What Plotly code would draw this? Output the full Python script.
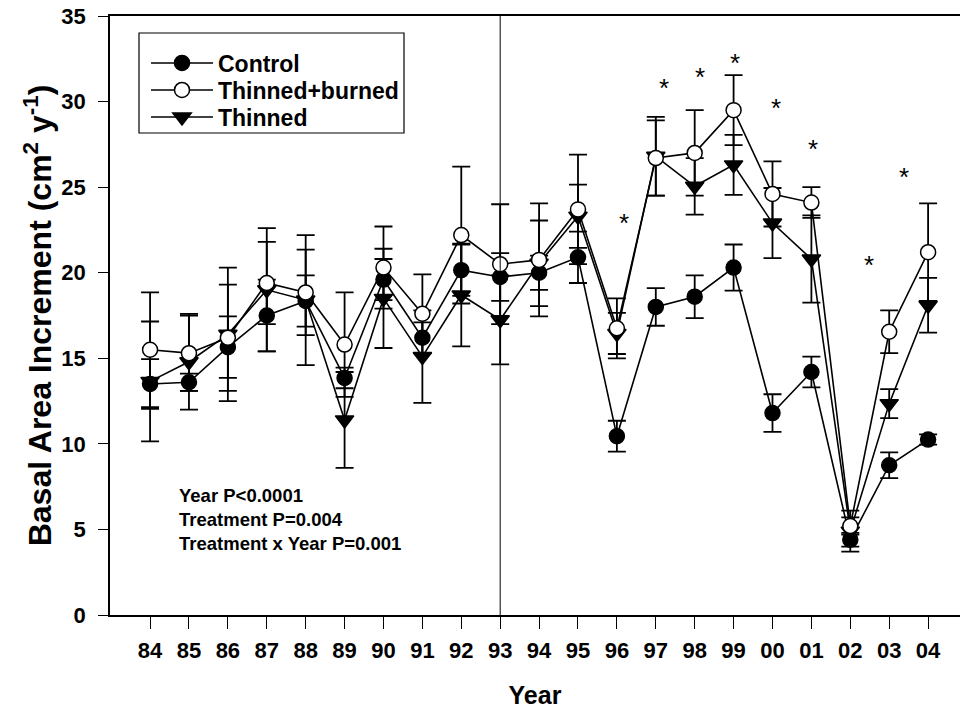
import plotly.graph_objects as go

years = ["84", "85", "86", "87", "88", "89", "90", "91", "92", "93", "94",
         "95", "96", "97", "98", "99", "00", "01", "02", "03", "04"]

control = [13.5, 13.6, 15.65, 17.5, 18.35, 13.85, 19.6, 16.2, 20.15, 19.75, 20.0,
           20.9, 10.45, 18.0, 18.6, 20.3, 11.8, 14.2, 4.4, 8.75, 10.25]
control_se = [1.45, 0.5, 1.8, 2.1, 1.5, 0.6, 1.2, 0.9, 1.5, 1.4, 1.0,
              1.5, 0.9, 1.1, 1.25, 1.35, 1.1, 0.9, 0.4, 0.75, 0.3]

thinned_burned = [15.5, 15.3, 16.2, 19.4, 18.85, 15.8, 20.3, 17.6, 22.2, 20.5, 20.75,
                  23.7, 16.75, 26.7, 27.0, 29.5, 24.6, 24.1, 5.2, 16.55, 21.2]
thinned_burned_se = [3.35, 2.2, 3.1, 2.4, 2.5, 3.05, 2.4, 2.3, 4.0, 3.5, 3.3,
                     3.2, 1.75, 2.2, 2.5, 2.05, 1.9, 0.9, 0.5, 1.25, 2.85]

thinned = [13.65, 14.8, 16.4, 19.0, 18.4, 11.4, 18.5, 15.1, 18.7, 17.25, 20.55,
           23.3, 16.45, 26.8, 25.05, 26.3, 22.9, 20.8, 4.9, 12.35, 18.1]
thinned_se = [3.5, 2.8, 3.9, 3.6, 3.8, 2.8, 2.9, 2.7, 3.0, 2.6, 2.5,
              1.85, 1.2, 2.3, 1.65, 1.75, 2.05, 2.55, 1.2, 0.85, 1.6]

# significance asterisks: position along the year axis (index units) and height
star_x = [12.19, 13.21, 14.14, 15.04, 16.09, 17.04, 18.48, 19.37]
star_y = [23.2, 31.1, 31.75, 32.55, 29.9, 27.5, 20.75, 25.9]

divider_year_index = 9  # vertical line at 93

stats_text = ["Year P<0.0001", "Treatment P=0.004", "Treatment x Year P=0.001"]

x = list(range(len(years)))
FONT = "Liberation Sans, Arial, Helvetica, sans-serif"

fig = go.Figure()

# (name, values, se, symbol, fill, size, legend id, legend row centre in px)
series = [
    ("Thinned", thinned, thinned_se, "triangle-down", "black", 16, "legend3", 117),
    ("Control", control, control_se, "circle", "black", 15, "legend", 63),
    ("Thinned+burned", thinned_burned, thinned_burned_se, "circle", "white", 15, "legend2", 90),
]
legend_layout = {}
for name, vals, se, sym, fill, size, leg, row_px in series:
    fig.add_trace(go.Scatter(
        x=x, y=vals, name=name, mode="lines+markers",
        line=dict(color="black", width=1.6),
        marker=dict(symbol=sym, color=fill, size=size,
                    line=dict(color="black", width=1.5)),
        error_y=dict(type="data", array=se, visible=True,
                     color="black", thickness=1.8, width=9),
        legend=leg,
    ))
    legend_layout[leg] = dict(
        x=(146 - 110) / 850, y=(615 - row_px) / 599,
        xanchor="left", yanchor="middle",
        borderwidth=0, bgcolor="rgba(0,0,0,0)",
        font=dict(family=FONT, size=23, color="black", weight="bold"),
        itemwidth=62, tracegroupgap=0,
    )

for sx, sy in zip(star_x, star_y):
    fig.add_annotation(x=sx, y=sy, xref="x", yref="y", text="*",
                       showarrow=False, yshift=-5,
                       font=dict(family=FONT, size=26, color="black"))

fig.add_annotation(x=0.0788, y=0.1586, xref="paper", yref="paper",
                   xanchor="left", yanchor="middle", align="left",
                   text="<br>".join(stats_text), showarrow=False,
                   font=dict(family=FONT, size=18.5, color="black", weight="bold"))

fig.add_shape(type="line", xref="x", yref="paper",
              x0=divider_year_index, x1=divider_year_index, y0=0, y1=1,
              line=dict(color="black", width=1))

# legend frame (pixel box 139..404 x 33..133)
fig.add_shape(type="rect", xref="paper", yref="paper",
              x0=(139 - 110) / 850, x1=(404 - 110) / 850,
              y0=(615 - 133) / 599, y1=(615 - 33) / 599,
              line=dict(color="black", width=1.2), fillcolor="rgba(0,0,0,0)")

fig.update_layout(
    width=960, height=717,
    margin=dict(l=110, r=0, t=16, b=102),
    paper_bgcolor="white", plot_bgcolor="white",
    font=dict(family=FONT, color="black"),
    showlegend=True,
    **legend_layout,
    xaxis=dict(
        range=[-1.03, 20.82], tickmode="array", tickvals=x, ticktext=years,
        showgrid=False, zeroline=False, showline=True, linecolor="black",
        linewidth=1.5, mirror=True, ticks="outside", ticklen=12, tickwidth=1,
        tickcolor="black", ticklabelstandoff=3,
        tickfont=dict(family=FONT, size=22, color="black", weight="bold"),
        title=dict(text="Year", standoff=24,
                   font=dict(family=FONT, size=25, color="black", weight="bold")),
    ),
    yaxis=dict(
        range=[0, 35], tickmode="linear", tick0=0, dtick=5,
        showgrid=False, zeroline=False, showline=True, linecolor="black",
        linewidth=1.5, ticks="outside", ticklen=10, tickwidth=1,
        tickcolor="black", ticklabelstandoff=8,
        tickfont=dict(family=FONT, size=22, color="black", weight="bold"),
        title=dict(text="Basal Area Increment (cm<sup>2</sup> y<sup>-1</sup>)",
                   standoff=0,
                   font=dict(family=FONT, size=32, color="black", weight="bold")),
    ),
)

fig.write_html("out.html")
